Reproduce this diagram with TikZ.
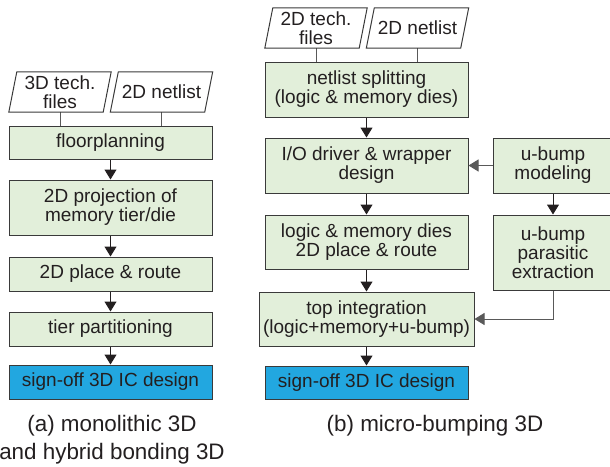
\documentclass[tikz,border=0pt]{standalone}
\usepackage{fontspec}
\setmainfont{Liberation Sans}
\usepackage{xcolor}
\usepackage{tikz}
\usetikzlibrary{arrows.meta}
\definecolor{boxgreen}{HTML}{E2EFDA}
\definecolor{signblue}{HTML}{22A7E0}
\definecolor{edge}{HTML}{3A3A3A}
\definecolor{ink}{HTML}{231F20}
\colorlet{wire}{black!65}
\newcommand\boxfont{\fontsize{19}{19}\selectfont}
\newcommand\capfont{\fontsize{22.4}{28}\selectfont}
\tikzstyle{stage}=[draw=edge,fill=boxgreen,line width=1pt,align=center,inner sep=0pt,
  minimum width=203pt,text=ink,font=\boxfont]
\tikzstyle{signoff}=[stage,fill=signblue]
\tikzstyle{infile}=[minimum width=94pt,minimum height=40pt,inner sep=0pt,align=center,
  text=ink,font=\boxfont]
\tikzstyle{slant}=[draw=edge,line width=1pt,line join=miter]
\tikzstyle{flow}=[line width=1pt,draw=ink,-{Triangle[length=10pt,width=12pt]}]
\tikzstyle{link}=[line width=1pt,draw=wire]
\tikzstyle{caption}=[align=center,text=ink,font=\capfont]
\begin{document}
\begin{tikzpicture}[x=1pt,y=-1pt]
	\clip (0,0) rectangle (610,466);
	% (a) monolithic / hybrid bonding
	\node[infile] (techa) at (60,92) {3D tech.\\files};
	\node[infile] (neta)  at (161.5,92) {2D netlist};
	\node[stage,minimum height=33pt] (floor) at (110.5,142.5) {floorplanning};
	\node[stage,minimum height=55pt] (proj)  at (110.5,207.5) {2D projection of\\memory tier/die};
	\node[stage,minimum height=34pt] (pra)   at (110.5,274) {2D place \& route};
	\node[stage,minimum height=34pt] (part)  at (110.5,329) {tier partitioning};
	\node[signoff,minimum height=34pt] (signa) at (110.5,382) {sign-off 3D IC design};
	\node[caption] (capa) at (112,440) {(a) monolithic 3D\\and hybrid bonding 3D};
	\draw[link] (techa.south) -- (techa.south |- floor.north);
	\draw[link] (neta.south) -- (neta.south |- floor.north);
	\draw[flow] (floor) -- (proj);
	\draw[flow] (proj) -- (pra);
	\draw[flow] (pra) -- (part);
	\draw[flow] (part) -- (signa);
	% (b) micro-bumping
	\node[infile] (techb) at (316,28) {2D tech.\\files};
	\node[infile] (netb)  at (417.5,28) {2D netlist};
	\node[stage,minimum height=55pt] (split) at (366.5,89.5) {netlist splitting\\(logic \& memory dies)};
	\node[stage,minimum height=55pt] (io)    at (366.5,165.5) {I/O driver \& wrapper\\design};
	\node[stage,minimum height=54pt] (prb)   at (366.5,242) {logic \& memory dies\\2D place \& route};
	\node[stage,minimum height=54pt,minimum width=215pt] (top) at (366.5,319)
	  {top integration\\(logic+memory+u-bump)};
	\node[signoff,minimum height=33pt] (signb) at (366.5,382.5) {sign-off 3D IC design};
	\node[stage,minimum height=55pt,minimum width=120pt] (model) at (553,165.5) {u-bump\\modeling};
	\node[stage,minimum height=75pt,minimum width=120pt] (paras) at (553,252.5)
	  {u-bump\\parasitic\\extraction};
	\node[caption] (capb) at (435,426) {(b) micro-bumping 3D};
	\draw[link] (techb.south) -- (techb.south |- split.north);
	\draw[link] (netb.south) -- (netb.south |- split.north);
	\draw[flow] (split) -- (io);
	\draw[flow] (io) -- (prb);
	\draw[flow] (prb) -- (top);
	\draw[flow] (top) -- (signb);
	\draw[flow,draw=wire] (model) -- (io);
	\draw[flow] (model) -- (paras);
	\draw[flow,draw=wire] (paras.south) |- (top.east);
	% input files as parallelograms
	\foreach \f in {techa,neta,techb,netb}
	  \draw[slant] ([xshift=-4pt]\f.south west) -- ([xshift=4pt]\f.north west)
	    -- ([xshift=4pt]\f.north east) -- ([xshift=-4pt]\f.south east) -- cycle;
\end{tikzpicture}
\end{document}
